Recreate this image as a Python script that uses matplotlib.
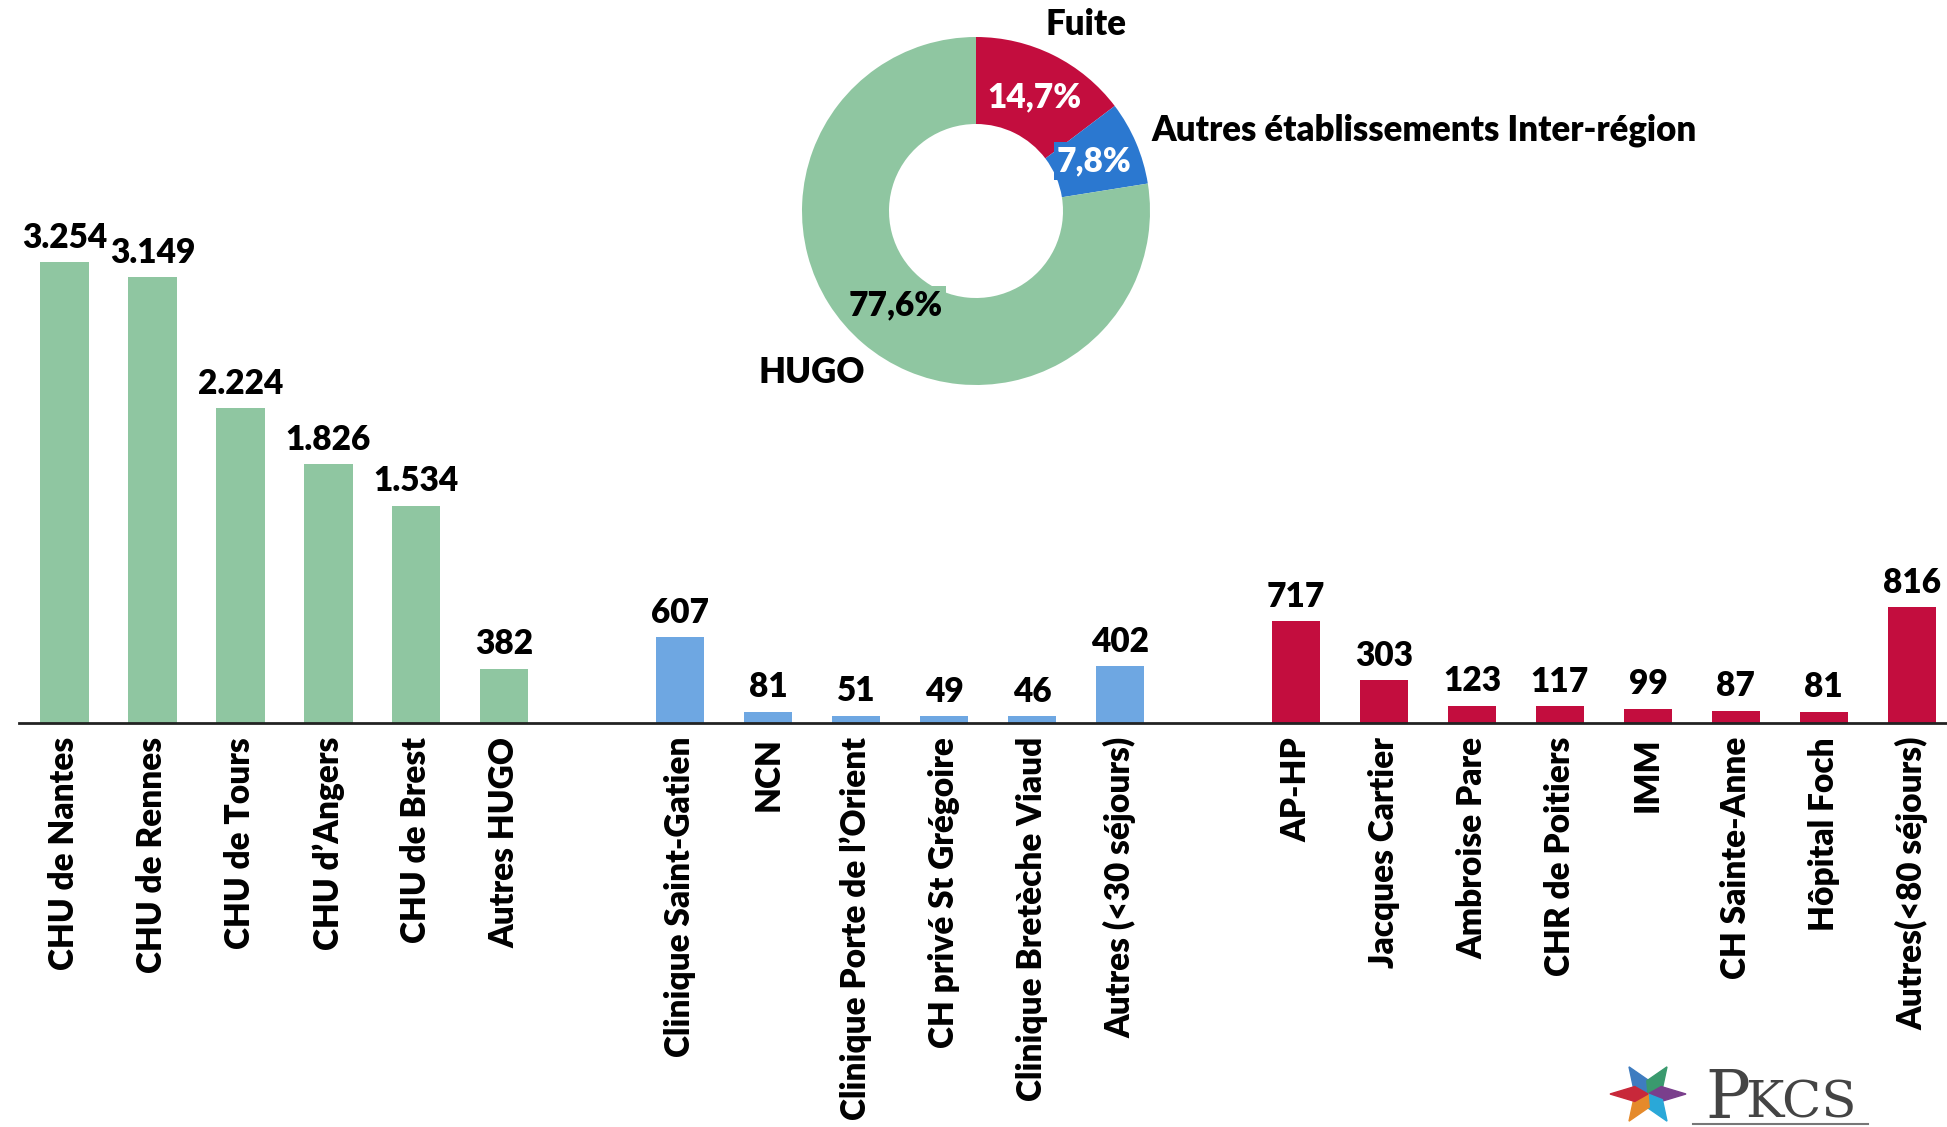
import numpy as np
import matplotlib
matplotlib.use("Agg")
from matplotlib import pyplot as plt
from matplotlib.patches import Polygon

plt.rcParams['font.family'] = ['Lato', 'DejaVu Sans']
plt.rcParams['font.weight'] = 'bold'

# bar data, three groups
hugo_names = ["CHU de Nantes", "CHU de Rennes", "CHU de Tours", "CHU d’Angers",
              "CHU de Brest", "Autres HUGO"]
hugo_vals = [3254, 3149, 2224, 1826, 1534, 382]
inter_names = ["Clinique Saint-Gatien", "NCN", "Clinique Porte de l’Orient",
               "CH privé St Grégoire", "Clinique Bretèche Viaud", "Autres (<30 séjours)"]
inter_vals = [607, 81, 51, 49, 46, 402]
fuite_names = ["AP-HP", "Jacques Cartier", "Ambroise Pare", "CHR de Poitiers", "IMM",
               "CH Sainte-Anne", "Hôpital Foch", "Autres(<80 séjours)"]
fuite_vals = [717, 303, 123, 117, 99, 87, 81, 816]

# donut data
donut_labels = ["Fuite", "Autres établissements Inter-région", "HUGO"]
donut_pct = [14.7, 7.8, 77.6]

green = "#8FC6A1"
blue_bar = "#6EA7E2"
red = "#C30D3E"
blue_dark = "#2B78D0"

W, H = 1947, 1127
fig = plt.figure(figsize=(W / 100, H / 100), dpi=100)

ax = fig.add_axes([19 / W, 1 - 723 / H, 1 - 19 / W, 723 / H])
groups = [(hugo_names, hugo_vals, green), (inter_names, inter_vals, blue_bar),
          (fuite_names, fuite_vals, red)]
pos, names = [], []
start = 0
for nm, vals, col in groups:
    x = np.arange(start, start + len(vals))
    ax.bar(x, vals, width=0.55, color=col)
    for xi, v in zip(x, vals):
        ax.text(xi, v + 60, f"{v:,}".replace(",", "."), ha="center", va="bottom",
                fontsize=24, fontweight="heavy")
    pos += list(x)
    names += nm
    start += len(vals) + 1

ax.set_xlim(-0.516, 21.4)
ax.set_ylim(0, 5106)
ax.set_xticks(pos)
ax.set_xticklabels(names, rotation=90, fontsize=24, fontweight="heavy")
ax.tick_params(axis="x", length=0, pad=10)
ax.set_yticks([])
for s in ["top", "right", "left"]:
    ax.spines[s].set_visible(False)
ax.spines["bottom"].set_linewidth(2)
ax.spines["bottom"].set_color("#222222")

# donut
R = 174
dax = fig.add_axes([(976 - R) / W, (H - 211 - R) / H, 2 * R / W, 2 * R / H])
dax.pie(donut_pct, colors=[red, blue_dark, green], startangle=90, counterclock=False,
        radius=1, wedgeprops=dict(width=0.5, linewidth=0))
dax.set_xlim(-1, 1)
dax.set_ylim(-1, 1)
dax.set_aspect("equal")
dax.axis("off")
dax.text(0.632, 1.069, donut_labels[0], ha="center", va="center", fontsize=25,
         fontweight="heavy", clip_on=False)
dax.text(1.011, 0.466, donut_labels[1], ha="left", va="center", fontsize=25,
         fontweight="heavy", clip_on=False)
dax.text(-0.943, -0.931, donut_labels[2], ha="center", va="center", fontsize=25,
         fontweight="heavy", clip_on=False)
fmt = lambda p: f"{p:.1f}%".replace(".", ",")
dax.text(0.333, 0.655, fmt(donut_pct[0]), ha="center", va="center", fontsize=24,
         fontweight="heavy", color="white")
dax.text(0.678, 0.287, fmt(donut_pct[1]), ha="center", va="center", fontsize=24,
         fontweight="heavy", color="white",
         bbox=dict(facecolor=blue_dark, edgecolor="none", pad=2))
dax.text(-0.46, -0.54, fmt(donut_pct[2]), ha="center", va="center", fontsize=24,
         fontweight="heavy", color="black",
         bbox=dict(facecolor=green, edgecolor="none", pad=2))

# logo
lax = fig.add_axes([1608 / W, 0, 80 / W, 66 / H])
lax.set_xlim(-1, 1)
lax.set_ylim(-1, 1)
lax.axis("off")
star_cols = ["#3E7CC0", "#3A9A6E", "#7A3F8C", "#2AA8D8", "#E58A2B", "#C8283A"]
for i, c in enumerate(star_cols):
    a = np.deg2rad(120 - 60 * i)
    tip = (np.cos(a) * 0.95, np.sin(a) * 0.95)
    l = (np.cos(a + 0.6) * 0.4, np.sin(a + 0.6) * 0.4)
    r = (np.cos(a - 0.6) * 0.4, np.sin(a - 0.6) * 0.4)
    lax.add_patch(Polygon([(0, 0), l, tip, r], closed=True, color=c))
fig.text(1705 / W, 1 - 1118 / H, "P", fontsize=48, family="DejaVu Serif",
         fontweight="normal", color="#444444")
fig.text(1745 / W, 1 - 1118 / H, "KCS", fontsize=37, family="DejaVu Serif",
         fontweight="normal", color="#444444")
fig.add_artist(plt.Line2D([1693 / W, 1868 / W], [1 - 1124 / H] * 2, color="#777777", lw=1.5))

fig.savefig("out.png", dpi=100)
